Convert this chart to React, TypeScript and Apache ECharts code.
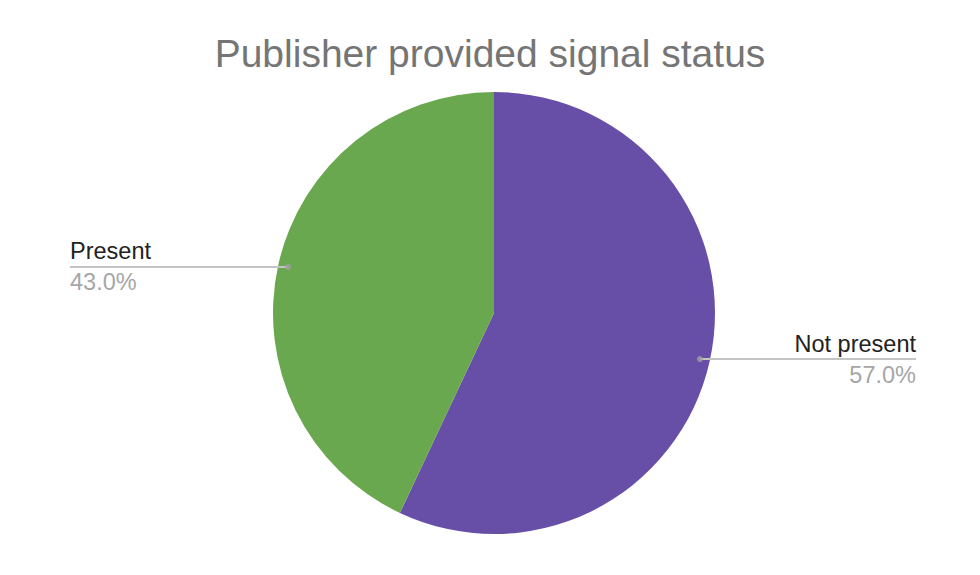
import * as echarts from "echarts";
import React, { useEffect, useRef } from "react";

const categories = ["Not present", "Present"];
const values = [57, 43];
const colors = ["#674ea7", "#6aa84f"];

const total = values.reduce((a, b) => a + b, 0);
// mid angle (in value units) of each slice, for the dots at the label line start
const midAngles = values.map(
  (v, i) => values.slice(0, i).reduce((a, b) => a + b, 0) + v / 2
);

const App: React.FC = () => {
  const chartRef = useRef<HTMLDivElement | null>(null);

  useEffect(() => {
    document.body.style.margin = "0";
    const chart = echarts.init(chartRef.current, null, { renderer: "svg" });
    const center = [494, 313];
    const shift = 3;
    const pieData = categories.map((name, i) => ({
      name,
      value: values[i],
      itemStyle: { color: colors[i] },
    }));

    chart.setOption({
      animation: false,
      textStyle: { fontFamily: "Liberation Sans, Arial, sans-serif" },
      title: {
        text: "Publisher provided signal status",
        left: "center",
        top: 29,
        textStyle: {
          fontSize: 39,
          fontWeight: "normal",
          color: "#757575",
          fontFamily: "Liberation Sans, Arial, sans-serif",
        },
      },
      polar: { center, radius: 211 },
      angleAxis: {
        type: "value",
        min: 0,
        max: total,
        startAngle: 90,
        clockwise: true,
        show: false,
      },
      radiusAxis: { type: "value", min: 0, max: 1, show: false },
      series: [
        {
          type: "pie",
          center,
          radius: 221,
          startAngle: 90,
          label: { show: false },
          labelLine: { show: false },
          silent: true,
          data: pieData,
        },
        {
          type: "pie",
          center,
          radius: 211,
          startAngle: 90,
          silent: true,
          z: 3,
          itemStyle: { color: "transparent" },
          label: {
            show: true,
            position: "outer",
            alignTo: "edge",
            edgeDistance: 67,
            formatter: (p: any) => `{name|${p.name}}\n{pct|${p.percent.toFixed(1)}%}`,
            rich: {
              name: { fontSize: 23.5, color: "#222222", lineHeight: 31 },
              pct: { fontSize: 23.5, color: "#a6a6a6", lineHeight: 31 },
            },
          },
          labelLine: {
            show: true,
            showAbove: true,
            length: 0,
            length2: 20,
            lineStyle: { color: "#c4c4c4", width: 2 },
          },
          labelLayout: (params: any) => {
            const pts = params.labelLinePoints;
            if (!pts) return {};
            const start = pts[0];
            const r = params.labelRect;
            const isLeft = r.x + r.width / 2 < start[0];
            const endX = (isLeft ? r.x : r.x + r.width) + shift;
            return { dx: shift, labelLinePoints: [start, [endX, start[1]]] };
          },
          data: pieData.map((d) => ({ name: d.name, value: d.value })),
        },
        {
          type: "scatter",
          coordinateSystem: "polar",
          symbolSize: 6,
          silent: true,
          z: 4,
          itemStyle: { color: "#a0a0a0" },
          data: midAngles.map((a) => [1, a]),
        },
      ],
    });

    return () => {
      chart.dispose();
    };
  }, []);

  return <div ref={chartRef} style={{ width: "980px", height: "575px" }}></div>;
};

export default App;
